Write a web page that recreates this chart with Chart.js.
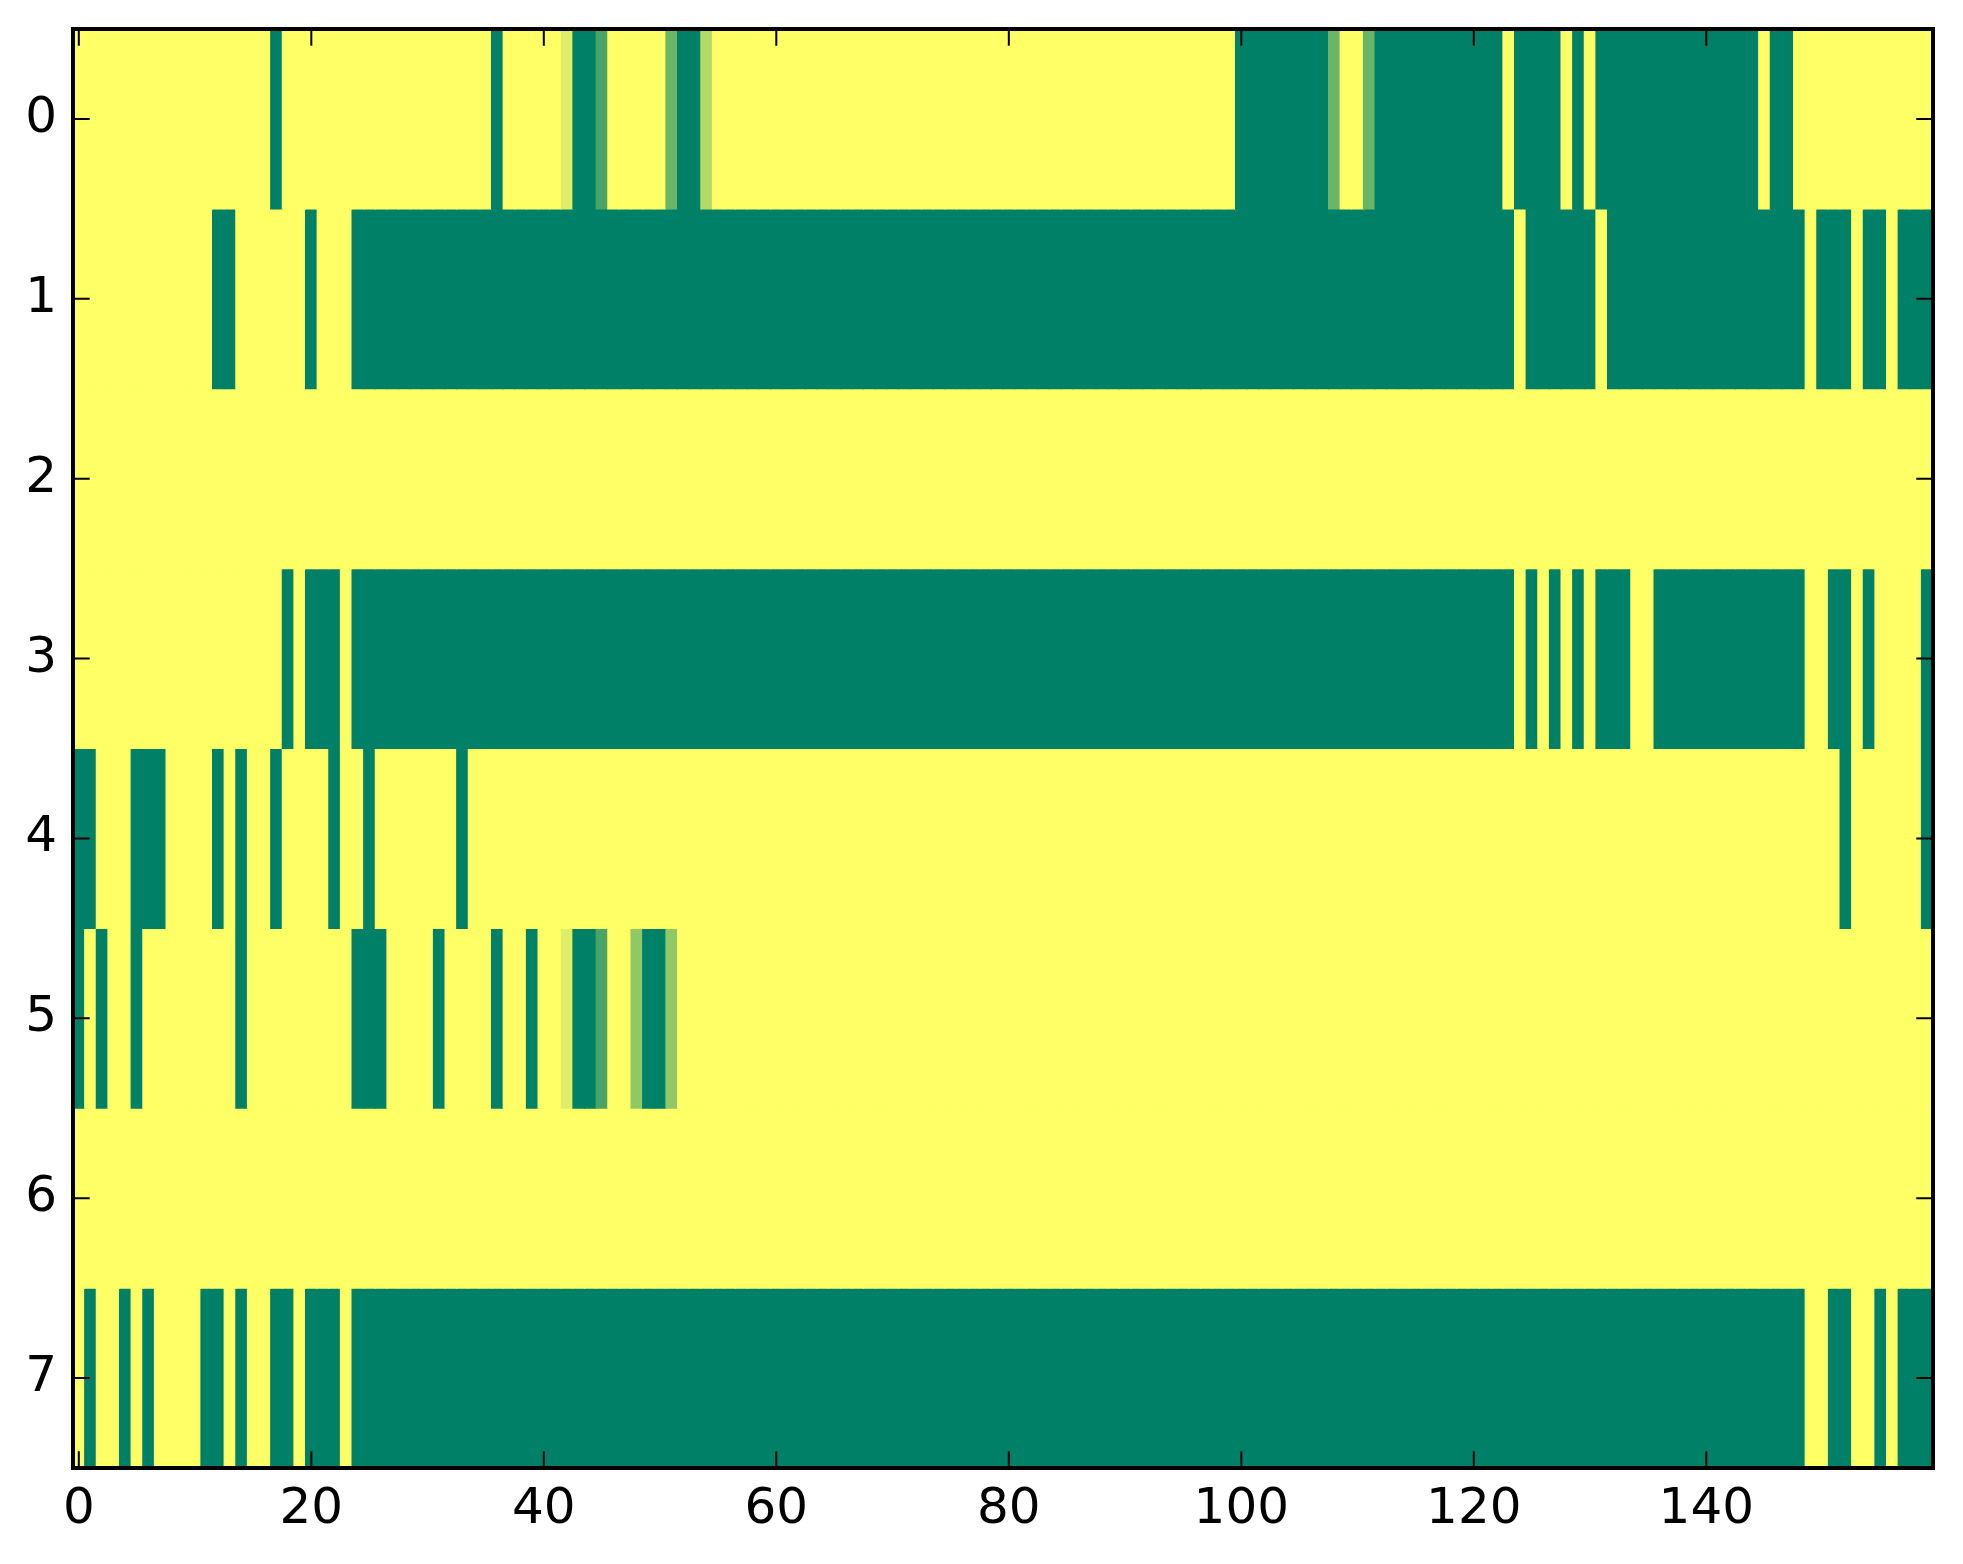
<!DOCTYPE html>
<html>
<head>
<meta charset="utf-8">
<script src="https://cdn.jsdelivr.net/npm/chart.js@4.4.1/dist/chart.umd.min.js"></script>
<style>
  html, body { margin: 0; background: #fff; }
  #wrap { width: 1963px; height: 1564px; }
</style>
</head>
<body>
<div id="wrap"><canvas id="heatmap"></canvas></div>
<script>
// one array per image row, 160 columns each (0 = dark green, 1 = yellow)
const row0 = [
  1,1,1,1,1,1,1,1,1,1,1,1,1,1,1,1,1,0,1,1,
  1,1,1,1,1,1,1,1,1,1,1,1,1,1,1,1,0,1,1,1,
  1,1,0.87,0,0,0.29,1,1,1,1,1,0.42,0,0,0.7,1,1,1,1,1,
  1,1,1,1,1,1,1,1,1,1,1,1,1,1,1,1,1,1,1,1,
  1,1,1,1,1,1,1,1,1,1,1,1,1,1,1,1,1,1,1,1,
  0,0,0,0,0,0,0,0,0.42,1,1,0.42,0,0,0,0,0,0,0,0,
  0,0,0,1,0,0,0,0,1,0,1,0,0,0,0,0,0,0,0,0,
  0,0,0,0,0,1,0,0,1,1,1,1,1,1,1,1,1,1,1,1
];
const row1 = [
  1,1,1,1,1,1,1,1,1,1,1,1,0,0,1,1,1,1,1,1,
  0,1,1,1,0,0,0,0,0,0,0,0,0,0,0,0,0,0,0,0,
  0,0,0,0,0,0,0,0,0,0,0,0,0,0,0,0,0,0,0,0,
  0,0,0,0,0,0,0,0,0,0,0,0,0,0,0,0,0,0,0,0,
  0,0,0,0,0,0,0,0,0,0,0,0,0,0,0,0,0,0,0,0,
  0,0,0,0,0,0,0,0,0,0,0,0,0,0,0,0,0,0,0,0,
  0,0,0,0,1,0,0,0,0,0,0,1,0,0,0,0,0,0,0,0,
  0,0,0,0,0,0,0,0,0,1,0,0,0,1,0,0,1,0,0,0
];
const row2 = [
  1,1,1,1,1,1,1,1,1,1,1,1,1,1,1,1,1,1,1,1,
  1,1,1,1,1,1,1,1,1,1,1,1,1,1,1,1,1,1,1,1,
  1,1,1,1,1,1,1,1,1,1,1,1,1,1,1,1,1,1,1,1,
  1,1,1,1,1,1,1,1,1,1,1,1,1,1,1,1,1,1,1,1,
  1,1,1,1,1,1,1,1,1,1,1,1,1,1,1,1,1,1,1,1,
  1,1,1,1,1,1,1,1,1,1,1,1,1,1,1,1,1,1,1,1,
  1,1,1,1,1,1,1,1,1,1,1,1,1,1,1,1,1,1,1,1,
  1,1,1,1,1,1,1,1,1,1,1,1,1,1,1,1,1,1,1,1
];
const row3 = [
  1,1,1,1,1,1,1,1,1,1,1,1,1,1,1,1,1,1,0,1,
  0,0,0,1,0,0,0,0,0,0,0,0,0,0,0,0,0,0,0,0,
  0,0,0,0,0,0,0,0,0,0,0,0,0,0,0,0,0,0,0,0,
  0,0,0,0,0,0,0,0,0,0,0,0,0,0,0,0,0,0,0,0,
  0,0,0,0,0,0,0,0,0,0,0,0,0,0,0,0,0,0,0,0,
  0,0,0,0,0,0,0,0,0,0,0,0,0,0,0,0,0,0,0,0,
  0,0,0,0,1,0,1,0,1,0,1,0,0,0,1,1,0,0,0,0,
  0,0,0,0,0,0,0,0,0,1,1,0,0,1,0,1,1,1,1,0
];
const row4 = [
  0,0,1,1,1,0,0,0,1,1,1,1,0,1,0,1,1,0,1,1,
  1,1,0,1,1,0,1,1,1,1,1,1,1,0,1,1,1,1,1,1,
  1,1,1,1,1,1,1,1,1,1,1,1,1,1,1,1,1,1,1,1,
  1,1,1,1,1,1,1,1,1,1,1,1,1,1,1,1,1,1,1,1,
  1,1,1,1,1,1,1,1,1,1,1,1,1,1,1,1,1,1,1,1,
  1,1,1,1,1,1,1,1,1,1,1,1,1,1,1,1,1,1,1,1,
  1,1,1,1,1,1,1,1,1,1,1,1,1,1,1,1,1,1,1,1,
  1,1,1,1,1,1,1,1,1,1,1,1,0,1,1,1,1,1,1,0
];
const row5 = [
  0,1,0,1,1,0,1,1,1,1,1,1,1,1,0,1,1,1,1,1,
  1,1,1,1,0,0,0,1,1,1,1,0,1,1,1,1,0,1,1,0,
  1,1,0.87,0,0,0.29,1,1,0.57,0,0,0.57,1,1,1,1,1,1,1,1,
  1,1,1,1,1,1,1,1,1,1,1,1,1,1,1,1,1,1,1,1,
  1,1,1,1,1,1,1,1,1,1,1,1,1,1,1,1,1,1,1,1,
  1,1,1,1,1,1,1,1,1,1,1,1,1,1,1,1,1,1,1,1,
  1,1,1,1,1,1,1,1,1,1,1,1,1,1,1,1,1,1,1,1,
  1,1,1,1,1,1,1,1,1,1,1,1,1,1,1,1,1,1,1,1
];
const row6 = [
  1,1,1,1,1,1,1,1,1,1,1,1,1,1,1,1,1,1,1,1,
  1,1,1,1,1,1,1,1,1,1,1,1,1,1,1,1,1,1,1,1,
  1,1,1,1,1,1,1,1,1,1,1,1,1,1,1,1,1,1,1,1,
  1,1,1,1,1,1,1,1,1,1,1,1,1,1,1,1,1,1,1,1,
  1,1,1,1,1,1,1,1,1,1,1,1,1,1,1,1,1,1,1,1,
  1,1,1,1,1,1,1,1,1,1,1,1,1,1,1,1,1,1,1,1,
  1,1,1,1,1,1,1,1,1,1,1,1,1,1,1,1,1,1,1,1,
  1,1,1,1,1,1,1,1,1,1,1,1,1,1,1,1,1,1,1,1
];
const row7 = [
  1,0,1,1,0,1,0,1,1,1,1,0,0,1,0,1,1,0,0,1,
  0,0,0,1,0,0,0,0,0,0,0,0,0,0,0,0,0,0,0,0,
  0,0,0,0,0,0,0,0,0,0,0,0,0,0,0,0,0,0,0,0,
  0,0,0,0,0,0,0,0,0,0,0,0,0,0,0,0,0,0,0,0,
  0,0,0,0,0,0,0,0,0,0,0,0,0,0,0,0,0,0,0,0,
  0,0,0,0,0,0,0,0,0,0,0,0,0,0,0,0,0,0,0,0,
  0,0,0,0,0,0,0,0,0,0,0,0,0,0,0,0,0,0,0,0,
  0,0,0,0,0,0,0,0,0,1,1,0,0,1,1,0,1,0,0,0
];

const xTicks = [0, 20, 40, 60, 80, 100, 120, 140];
const yTicks = [0, 1, 2, 3, 4, 5, 6, 7];

const rows = [row0, row1, row2, row3, row4, row5, row6, row7];

// matplotlib "summer" colormap
function summer(v) {
  const r = Math.round(255 * v);
  const g = Math.round(255 * (0.5 + 0.5 * v));
  return `rgb(${r}, ${g}, 102)`;
}

const datasets = rows.map((vals, r) => ({
  label: 'row ' + r,
  data: vals.map((v, c) => ({ x: c, y: [r - 0.5, r + 0.5] })),
  backgroundColor: vals.map(summer),
  borderWidth: 0,
  inflateAmount: 0.5,
  grouped: false,
  barPercentage: 1,
  categoryPercentage: 1,
}));

const tickFont = { family: 'DejaVu Sans', size: 50 };

// inward ticks on all four sides plus the black frame
const framePlugin = {
  id: 'frame',
  afterDraw(chart) {
    const { ctx, chartArea: a, scales: { x, y } } = chart;
    const len = 16.7;
    ctx.save();
    ctx.strokeStyle = '#000';
    ctx.lineWidth = 2;
    ctx.beginPath();
    x.ticks.forEach((t) => {
      const px = x.getPixelForValue(t.value);
      ctx.moveTo(px, a.bottom); ctx.lineTo(px, a.bottom - len);
      ctx.moveTo(px, a.top); ctx.lineTo(px, a.top + len);
    });
    y.ticks.forEach((t) => {
      const py = y.getPixelForValue(t.value);
      ctx.moveTo(a.left, py); ctx.lineTo(a.left + len, py);
      ctx.moveTo(a.right, py); ctx.lineTo(a.right - len, py);
    });
    ctx.stroke();
    ctx.lineWidth = 4;
    ctx.strokeRect(a.left, a.top, a.right - a.left, a.bottom - a.top);
    ctx.restore();
  },
};

new Chart(document.getElementById('heatmap'), {
  type: 'bar',
  data: { datasets },
  options: {
    responsive: true,
    maintainAspectRatio: false,
    animation: false,
    layout: { padding: { top: 29, right: 30, left: 0, bottom: 0 } },
    plugins: { legend: { display: false }, tooltip: { enabled: false } },
    scales: {
      x: {
        type: 'linear',
        offset: false,
        min: -0.5,
        max: 159.5,
        grid: { display: false, drawTicks: false },
        border: { display: false },
        ticks: { font: tickFont, color: '#000', padding: 12 },
        afterBuildTicks: (scale) => { scale.ticks = xTicks.map((v) => ({ value: v })); },
        afterFit: (scale) => {
          scale.height = 96;
          scale.paddingLeft = 0;
          scale.paddingRight = 0;
        },
      },
      y: {
        type: 'linear',
        offset: false,
        reverse: true,
        min: -0.5,
        max: 7.5,
        grid: { display: false, drawTicks: false },
        border: { display: false },
        ticks: { font: tickFont, color: '#000', padding: 16 },
        afterBuildTicks: (scale) => { scale.ticks = yTicks.map((v) => ({ value: v })); },
        afterFit: (scale) => {
          scale.width = 73;
          scale.paddingTop = 0;
          scale.paddingBottom = 0;
        },
      },
    },
  },
  plugins: [framePlugin],
});
</script>
</body>
</html>
